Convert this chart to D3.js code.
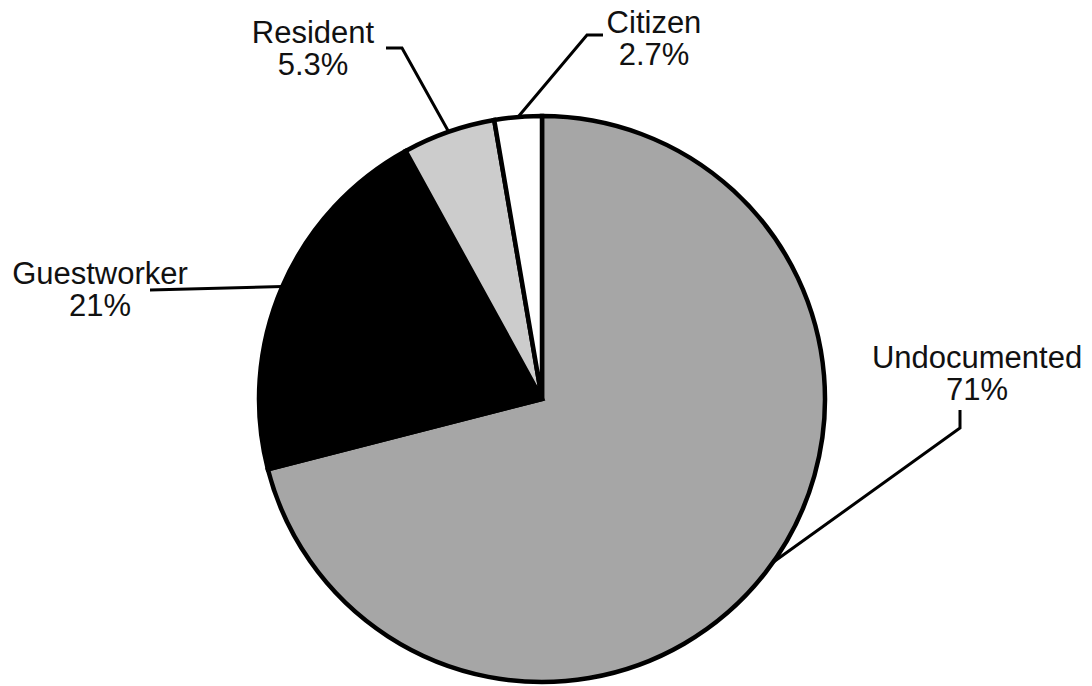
<!DOCTYPE html>
<html>
<head>
<meta charset="utf-8">
<script src="https://cdn.jsdelivr.net/npm/d3@7"></script>
<style>
  html, body { margin: 0; padding: 0; background: #fff; }
  svg { display: block; }
  text { font-family: "Liberation Sans", Arial, sans-serif; fill: #111; }
</style>
</head>
<body>
<svg id="chart" width="1092" height="686"></svg>
<script>
// ---- data ----
const categories = ["Undocumented", "Guestworker", "Resident", "Citizen"];
const percentLabels = ["71%", "21%", "5.3%", "2.7%"];
const values = [71, 21, 5.3, 2.7];
const colors = ["#a6a6a6", "#000000", "#cccccc", "#ffffff"];

// ---- layout (label text centre, baselines, leader elbow, leader anchor fraction) ----
const labelLayout = [
  { x: 977, y: 368, elbow: [[960, 410], [960, 428]], frac: 0.49 },
  { x: 100, y: 284, elbow: [[150, 290]], frac: 0.5 },
  { x: 313, y: 43,  elbow: [[386, 48], [402, 48]], frac: 0.5 },
  { x: 654, y: 33,  elbow: [[603, 35], [587, 35]], frac: 0.5 }
];

const cx = 542, cy = 399, R = 283;
const svg = d3.select("#chart");
const g = svg.append("g").attr("transform", `translate(${cx},${cy})`);

const pie = d3.pie().sort(null).value(d => d.value);
const data = categories.map((c, i) => ({ name: c, value: values[i], color: colors[i], pct: percentLabels[i], i }));
const arcs = pie(data);
const arc = d3.arc().innerRadius(0).outerRadius(R);

g.selectAll("path.slice")
  .data(arcs)
  .join("path")
  .attr("class", "slice")
  .attr("d", arc)
  .attr("fill", d => d.data.color)
  .attr("stroke", "#000")
  .attr("stroke-width", 4.5)
  .attr("stroke-linejoin", "miter");

// leader lines + labels
const line = d3.line();
arcs.forEach((a, i) => {
  const L = labelLayout[i];
  const ang = a.startAngle + (a.endAngle - a.startAngle) * L.frac;
  const ex = cx + R * Math.sin(ang), ey = cy - R * Math.cos(ang);
  const pts = L.elbow.concat([[ex, ey]]);
  svg.append("path")
    .attr("d", line(pts))
    .attr("fill", "none")
    .attr("stroke", "#000")
    .attr("stroke-width", 3);
  const t = svg.append("text")
    .attr("x", L.x).attr("y", L.y)
    .attr("text-anchor", "middle")
    .attr("font-size", 31);
  t.append("tspan").attr("x", L.x).attr("y", L.y).text(a.data.name);
  t.append("tspan").attr("x", L.x).attr("y", L.y + 32).text(a.data.pct);
});
</script>
</body>
</html>
